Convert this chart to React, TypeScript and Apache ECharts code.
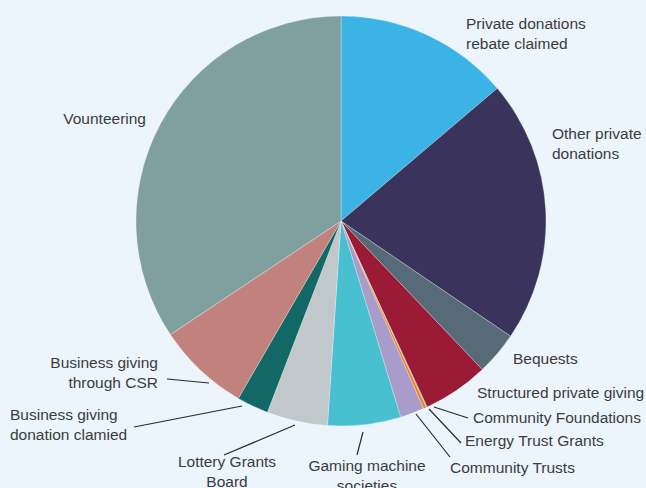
import React, { useEffect, useRef } from "react";
import * as echarts from "echarts";

const categories = [
  "Private donations rebate claimed",
  "Other private donations",
  "Bequests",
  "Structured private giving",
  "Community Foundations",
  "Energy Trust Grants",
  "Community Trusts",
  "Gaming machine societies",
  "Lottery Grants Board",
  "Business giving donation clamied",
  "Business giving through CSR",
  "Vounteering",
];

const labelTexts = [
  "Private donations\nrebate claimed",
  "Other private\ndonations",
  "Bequests",
  "Structured private giving",
  "Community Foundations",
  "Energy Trust Grants",
  "Community Trusts",
  "Gaming machine\nsocieties",
  "Lottery Grants\nBoard",
  "Business giving\ndonation clamied",
  "Business giving\nthrough CSR",
  "Vounteering",
];

const values = [13.8, 20.7, 3.4, 5.2, 0.08, 0.22, 1.9, 5.75, 4.8, 2.5, 7.3, 34.35];

const colors = [
  "#3bb4e5",
  "#3a345c",
  "#566b77",
  "#9b1b36",
  "#6cbf4a",
  "#f47a20",
  "#a99ccb",
  "#48c0d0",
  "#c0c8cc",
  "#116865",
  "#c1817d",
  "#809f9f",
];

const hasLeader = [false, false, false, false, true, true, true, true, true, true, true, false];

// label placement (layout only)
const labelPlace: { x: number; y: number; align: string; line?: number[][] }[] = [
  { x: 466, y: 33, align: "left" },
  { x: 552, y: 143, align: "left" },
  { x: 513, y: 358, align: "left" },
  { x: 477, y: 392, align: "left" },
  { x: 473, y: 417, align: "left", line: [[434, 407], [468, 418]] },
  { x: 465, y: 440, align: "left", line: [[429, 409], [461, 443]] },
  { x: 450, y: 467, align: "left", line: [[416, 414], [450, 457]] },
  { x: 367, y: 475, align: "center", line: [[363, 432], [357, 455]] },
  { x: 227, y: 471, align: "center", line: [[295, 425], [224, 455]] },
  { x: 10, y: 424, align: "left", line: [[242, 406], [134, 427]] },
  { x: 158, y: 372, align: "right", line: [[209, 383], [167, 379]] },
  { x: 146, y: 118, align: "right" },
];

const BG = "#ecf4fc";

export default function App() {
  const ref = useRef<HTMLDivElement>(null);
  useEffect(() => {
    document.body.style.margin = "0";
    document.body.style.background = BG;
    const chart = echarts.init(ref.current!, null, { renderer: "svg" });
    chart.setOption({
      animation: false,
      backgroundColor: BG,
      series: [
        {
          type: "pie",
          center: [341, 221],
          radius: 205,
          startAngle: 90,
          clockwise: true,
          avoidLabelOverlap: false,
          minAngle: 0,
          itemStyle: { borderColor: "rgba(255,255,255,0.45)", borderWidth: 0.6 },
          label: {
            show: true,
            position: "outside",
            fontSize: 15.5,
            lineHeight: 20,
            color: "#3c3c3c",
            fontFamily: "Liberation Sans, Arial, Helvetica, sans-serif",
            formatter: (p: any) => labelTexts[p.dataIndex],
          },
          labelLine: {
            show: true,
            lineStyle: { color: "#2a2a2a", width: 1.2 },
          },
          labelLayout: (p: any) => {
            const lp = labelPlace[p.dataIndex];
            const o: any = {
              x: lp.x,
              y: lp.y,
              align: lp.align,
              verticalAlign: "middle",
            };
            if (lp.line) o.labelLinePoints = lp.line;
            return o;
          },
          data: categories.map((c, i) => ({
            name: c,
            value: values[i],
            itemStyle: { color: colors[i] },
            labelLine: { show: hasLeader[i] },
          })),
        },
      ],
    });
    return () => chart.dispose();
  }, []);
  return (
    <div
      ref={ref}
      style={{ position: "absolute", left: 0, top: 0, width: 646, height: 488 }}
    />
  );
}
